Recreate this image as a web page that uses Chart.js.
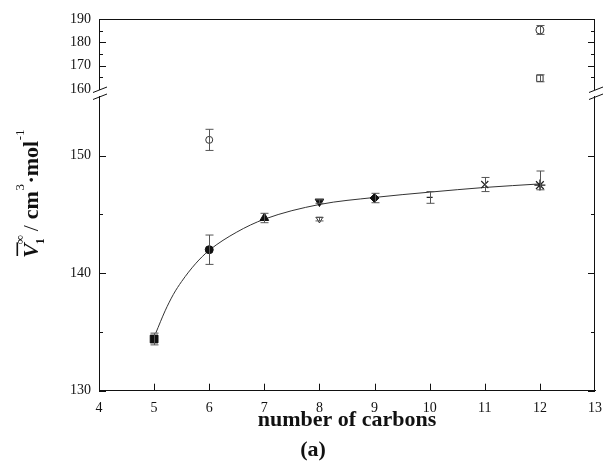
<!DOCTYPE html>
<html lang="en">
<head>
<meta charset="utf-8" />
<title>Partial molar volume vs number of carbons</title>
<script src="https://cdn.jsdelivr.net/npm/chart.js@4"></script>
<style>
  html, body { margin: 0; padding: 0; background: #fff; }
</style>
</head>
<body>
<canvas id="chart" width="611" height="470"></canvas>
<script>
const serif = '"Liberation Serif", "Times New Roman", serif';
const ink = '#111';

// fitted curve
const fitX = [5.03, 5.2, 5.35, 5.5, 5.75, 6, 6.5, 7, 8, 9, 10, 11, 12];
const fitY = [134.9, 136.8, 138.2, 139.3, 140.8, 141.95, 143.5, 144.6, 145.85, 146.45, 146.9, 147.3, 147.6];

// filled symbols sitting on the curve
const filledX = [5, 6, 7, 8, 9];
const filledY = [134.4, 142.0, 144.7, 146.1, 146.4];
const filledErr = [0.5, 1.25, 0.4, 0.15, 0.4];
const filledShape = ['rect', 'circle', 'triangle', 'triangle', 'rectRot'];
const filledTurn = [0, 0, 0, 180, 0];
const filledSize = [5.5, 4, 5, 5, 4.5];

// open symbols, lower panel
const openX = [6, 8];
const openY = [151.35, 144.6];
const openErr = [0.9, 0.15];
const openShape = ['circle', 'triangle'];
const openTurn = [0, 180];
const openSize = [3.5, 3.8];

// line-drawn symbols
const lineX = [10, 11, 12];
const lineY = [146.45, 147.55, 147.5];
const lineErrUp = [0.5, 0.6, 1.2];
const lineErrDown = [0.5, 0.6, 0.4];
const lineShape = ['line', 'crossRot', 'star'];
const lineSize = [3, 5, 5.5];

// upper panel, 12 carbons
const upperX = [12, 12];
const upperY = [185.3, 164.6];
const upperErr = [1.9, 1.5];
const upperShape = ['circle', 'rect'];
const upperSize = [4, 4.5];

// inward tick marks
const xTickMarks = [5, 6, 7, 8, 9, 10, 11, 12];
const lowMajor = [130, 140, 150];
const lowMinor = [135, 145];
const topMajor = [170, 180];
const topMinor = [165, 175, 185];

const pts = (xs, ys) => xs.map((x, i) => ({ x, y: ys[i] }));

const decor = {
    id: 'decor',
    afterDatasetsDraw(chart) {
        const { ctx, scales } = chart;
        ctx.save();
        ctx.strokeStyle = '#555';
        ctx.lineWidth = 1;
        chart.data.datasets.forEach(ds => {
            if (!ds.errUp) return;
            const ys = scales[ds.yAxisID];
            ds.data.forEach((p, i) => {
                const px = Math.round(scales.x.getPixelForValue(p.x)) + 0.5;
                const hi = ys.getPixelForValue(p.y + ds.errUp[i]);
                const lo = ys.getPixelForValue(p.y - ds.errDown[i]);
                ctx.beginPath();
                ctx.moveTo(px, hi); ctx.lineTo(px, lo);
                ctx.moveTo(px - 4, hi); ctx.lineTo(px + 4, hi);
                ctx.moveTo(px - 4, lo); ctx.lineTo(px + 4, lo);
                ctx.stroke();
            });
        });
        ctx.restore();
    },
    afterDraw(chart) {
        const { ctx, chartArea: a, scales } = chart;
        ctx.save();
        ctx.strokeStyle = ink;
        ctx.lineWidth = 1;

        // top and right frame
        ctx.beginPath();
        ctx.moveTo(a.left, a.top + 0.5); ctx.lineTo(a.right, a.top + 0.5);
        ctx.moveTo(a.right - 0.5, a.top); ctx.lineTo(a.right - 0.5, a.bottom);
        ctx.stroke();

        // inward ticks
        const yTick = (scale, v, len) => {
            const y = Math.round(scale.getPixelForValue(v)) + 0.5;
            ctx.moveTo(a.left, y); ctx.lineTo(a.left + len, y);
            ctx.moveTo(a.right, y); ctx.lineTo(a.right - len, y);
        };
        ctx.beginPath();
        lowMajor.forEach(v => yTick(scales.yLow, v, 7));
        lowMinor.forEach(v => yTick(scales.yLow, v, 4));
        topMajor.forEach(v => yTick(scales.yTop, v, 7));
        topMinor.forEach(v => yTick(scales.yTop, v, 4));
        xTickMarks.forEach(v => {
            const x = Math.round(scales.x.getPixelForValue(v)) + 0.5;
            ctx.moveTo(x, a.bottom); ctx.lineTo(x, a.bottom - 7);
        });
        ctx.stroke();

        // axis break marks
        const yb = scales.yTop.bottom;
        [a.left, a.right].forEach(xb => {
            ctx.fillStyle = '#fff';
            ctx.fillRect(xb - 2, yb + 1, 4, 6);
            ctx.beginPath();
            ctx.moveTo(xb - 6, yb + 3.5); ctx.lineTo(xb + 8, yb - 2);
            ctx.moveTo(xb - 6, yb + 10.5); ctx.lineTo(xb + 8, yb + 5);
            ctx.stroke();
        });

        // y axis title: V-bar_1^inf / cm^3 . mol^-1
        ctx.fillStyle = ink;
        ctx.translate(38, 258);
        ctx.rotate(-Math.PI / 2);
        ctx.textBaseline = 'alphabetic';
        ctx.textAlign = 'left';
        ctx.font = 'italic bold 22px ' + serif;
        ctx.fillText('V', 0, 0);
        const vw = ctx.measureText('V').width;
        ctx.fillRect(2, -21.5, vw - 1, 1.6);
        ctx.font = 'bold 12px ' + serif;
        ctx.fillText('1', vw - 1, 6);
        ctx.font = '13px ' + serif;
        ctx.fillText('\u221E', vw - 1, -14);
        let x = vw + 12;
        const part = (txt, font, dy, gap) => {
            ctx.font = font;
            ctx.fillText(txt, x, dy);
            x += ctx.measureText(txt).width + (gap || 0);
        };
        part('/', '22px ' + serif, 0, 6);
        part('cm', 'bold 22px ' + serif, 0, 0.5);
        part('3', '13px ' + serif, -14, 0.5);
        part('\u00B7', 'bold 22px ' + serif, 0, 0);
        part('mol', 'bold 22px ' + serif, 0, 0.5);
        part('-1', '13px ' + serif, -14, 0);
        ctx.setTransform(1, 0, 0, 1, 0, 0);

        // panel label
        ctx.font = 'bold 22px ' + serif;
        ctx.textAlign = 'center';
        ctx.textBaseline = 'middle';
        ctx.fillText('(a)', 313, 450);
        ctx.restore();
    }
};

const yCommon = {
    type: 'linear',
    position: 'left',
    stack: 'v',
    grid: { display: false, drawTicks: false },
    border: { display: true, color: ink, width: 1 },
    afterFit: s => { s.width = 99; }
};

new Chart(document.getElementById('chart'), {
    type: 'scatter',
    data: {
        datasets: [
            {
                data: pts(filledX, filledY), yAxisID: 'yLow',
                errUp: filledErr, errDown: filledErr,
                pointStyle: filledShape, rotation: filledTurn, pointRadius: filledSize,
                backgroundColor: ink, borderColor: ink, borderWidth: 1
            },
            {
                data: pts(openX, openY), yAxisID: 'yLow',
                errUp: openErr, errDown: openErr,
                pointStyle: openShape, rotation: openTurn, pointRadius: openSize,
                backgroundColor: 'rgba(0,0,0,0)', borderColor: '#333', borderWidth: 1
            },
            {
                data: pts(lineX, lineY), yAxisID: 'yLow',
                errUp: lineErrUp, errDown: lineErrDown,
                pointStyle: lineShape, pointRadius: lineSize,
                backgroundColor: '#222', borderColor: '#222', borderWidth: 1.2
            },
            {
                data: pts(upperX, upperY), yAxisID: 'yTop',
                errUp: upperErr, errDown: upperErr,
                pointStyle: upperShape, pointRadius: upperSize,
                backgroundColor: 'rgba(0,0,0,0)', borderColor: '#333', borderWidth: 1
            },
            {
                data: pts(fitX, fitY), yAxisID: 'yLow',
                showLine: true, pointRadius: 0,
                borderColor: '#333', borderWidth: 1,
                cubicInterpolationMode: 'monotone'
            }
        ]
    },
    options: {
        responsive: false,
        animation: false,
        layout: { padding: { top: 19, right: 8.4, left: 0, bottom: 0 } },
        plugins: { legend: { display: false }, tooltip: { enabled: false } },
        scales: {
            x: {
                type: 'linear', min: 4, max: 13,
                grid: { display: false, drawTicks: false },
                border: { display: true, color: ink, width: 1 },
                ticks: { stepSize: 1, autoSkip: false, color: ink, padding: 9, font: { family: serif, size: 14 } },
                title: {
                    display: true, text: 'number of carbons', color: ink,
                    font: { family: serif, size: 22, weight: 'bold' },
                    padding: { top: 0, bottom: 36 }
                },
                afterFit: s => { s.height = 79.3; }
            },
            yLow: Object.assign({}, yCommon, {
                min: 130, max: 155.68, stackWeight: 301.7,
                ticks: { stepSize: 10, autoSkip: false, includeBounds: false, color: ink, padding: 8, font: { family: serif, size: 14 } }
            }),
            yTop: Object.assign({}, yCommon, {
                min: 160, max: 190, stackWeight: 70,
                ticks: { stepSize: 10, autoSkip: false, color: ink, padding: 8, font: { family: serif, size: 14 } }
            })
        }
    },
    plugins: [decor]
});
</script>
</body>
</html>
